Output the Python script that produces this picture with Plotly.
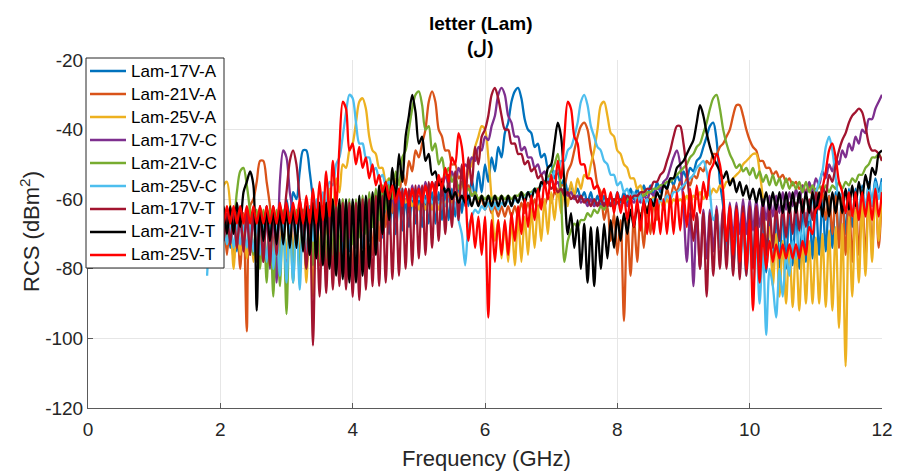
import numpy as np
import plotly.graph_objects as go

# Frequency grid (GHz): 1.80, 1.85, ..., 12.00
FREQ = np.round(np.arange(1.8, 12.0001, 0.05), 2)

NAMES = ["Lam-17V-A", "Lam-21V-A", "Lam-25V-A", "Lam-17V-C", "Lam-21V-C",
         "Lam-25V-C", "Lam-17V-T", "Lam-21V-T", "Lam-25V-T"]
COLORS = ["#0072BD", "#D95319", "#EDB120", "#7E2F8E", "#77AC30",
          "#4DBEEE", "#A2142F", "#000000", "#FF0000"]

X_TICKS = [0, 2, 4, 6, 8, 10, 12]
Y_TICKS = [-120, -100, -80, -60, -40, -20]
Y_TICK_TEXT = ["-120", "-100", "-80", "-60", "-40", "-20"]

# RCS values (dBm^2), one row per GHz
LAM_17V_A = [-66,-72,-65,-73,
 -65,-72,-64,-74,-64,-75,-64,-74,-63,-76,-63,-75,-63,-76,-62,-74,-62,-75,-61,-73,
 -60,-66,-58,-60,-52,-46,-46,-52,-60,-68,-62,-74,-63,-76,-63,-77,-63,-76,-63,-75,
 -63,-74,-62,-74,-62,-72,-62,-72,-61,-71,-61,-70,-60,-70,-60,-69,-60,-68,-59,-67,
 -59,-68,-59,-67,-58,-67,-58,-66,-57,-66,-57,-65,-56,-64,-55,-62,-54,-60,-52,-58,
 -50,-55,-48,-52,-45,-48,-41,-38,-32,-29,-28,-31,-37,-40,-41,-45,-44,-48,-47,-51,
 -50,-54,-52,-56,-54,-58,-56,-59,-57,-60,-58,-61,-58,-62,-59,-62,-59,-62,-59,-62,
 -58,-61,-58,-61,-57,-60,-57,-60,-56,-59,-56,-59,-55,-58,-55,-57,-54,-56,-53,-55,
 -52,-54,-51,-52,-49,-48,-45,-42,-39,-38,-43,-55,-62,-75,-63,-80,-62,-81,-62,-79,
 -62,-80,-63,-82,-63,-81,-63,-82,-63,-80,-62,-80,-62,-79,-62,-80,-61,-78,-61,-77,
 -60,-76,-60,-75,-59,-74,-58,-72,-58,-70,-57,-68,-57,-66,-56,-64,-55,-62,-54,-58,
 -54]

LAM_21V_A = [-74,-66,-76,-65,
 -75,-65,-76,-65,-78,-64,-80,-64,-98,-62,-60,-55,-49,-49,-55,-62,-74,-64,-76,-64,
 -78,-64,-77,-64,-78,-63,-77,-63,-78,-63,-79,-63,-80,-63,-80,-62,-81,-62,-82,-62,
 -82,-61,-83,-61,-80,-60,-76,-59,-72,-58,-68,-56,-64,-54,-60,-52,-56,-49,-52,-46,
 -48,-44,-40,-32,-29,-32,-40,-42,-46,-46,-50,-50,-54,-53,-57,-56,-59,-58,-61,-60,
 -63,-61,-64,-62,-65,-62,-65,-62,-65,-62,-65,-61,-64,-61,-64,-60,-63,-60,-62,-59,
 -61,-58,-59,-56,-56,-52,-50,-46,-42,-39,-38,-40,-46,-50,-56,-58,-66,-62,-72,-64,
 -76,-66,-95,-66,-82,-65,-78,-64,-74,-62,-70,-61,-66,-59,-63,-57,-60,-56,-58,-55,
 -57,-54,-56,-53,-54,-51,-52,-49,-50,-47,-47,-45,-44,-42,-40,-36,-33,-33,-36,-40,
 -43,-45,-46,-49,-49,-51,-51,-53,-52,-54,-53,-55,-54,-56,-55,-57,-56,-58,-56,-59,
 -57,-62,-58,-66,-59,-70,-59,-74,-59,-76,-59,-78,-58,-76,-58,-77,-57,-75,-56,-74,
 -58]

LAM_25V_A = [-70,-62,-68,-60,
 -62,-56,-55,-62,-80,-66,-76,-66,-77,-66,-78,-66,-77,-66,-78,-66,-77,-65,-78,-65,
 -77,-65,-79,-64,-80,-64,-84,-63,-88,-62,-76,-60,-70,-57,-64,-54,-58,-50,-51,-46,
 -44,-38,-32,-31,-34,-42,-46,-47,-51,-51,-55,-54,-58,-56,-59,-58,-61,-59,-62,-60,
 -63,-60,-63,-60,-63,-60,-63,-60,-62,-59,-61,-58,-59,-56,-56,-52,-50,-45,-42,-39,
 -40,-48,-60,-72,-66,-77,-67,-78,-66,-79,-65,-78,-65,-76,-63,-74,-62,-72,-60,-70,
 -58,-66,-57,-64,-56,-62,-55,-59,-54,-57,-53,-54,-50,-46,-40,-33,-32,-36,-41,-42,
 -46,-47,-50,-51,-54,-54,-57,-56,-59,-58,-61,-59,-62,-60,-62,-60,-62,-60,-61,-60,
 -61,-59,-61,-59,-60,-58,-60,-58,-59,-57,-58,-56,-57,-55,-55,-54,-53,-52,-50,-49,
 -48,-47,-47,-52,-60,-72,-68,-85,-70,-88,-72,-90,-73,-91,-73,-92,-72,-90,-72,-90,
 -71,-90,-70,-91,-69,-92,-68,-97,-67,-108,-65,-88,-63,-84,-61,-82,-59,-78,-57,-72,
 -56]

LAM_17V_C = [-66,-72,-66,-72,
 -65,-72,-65,-73,-65,-74,-65,-75,-65,-76,-64,-77,-64,-78,-64,-80,-63,-84,-55,-46,
 -48,-58,-64,-74,-64,-75,-64,-76,-64,-76,-64,-75,-64,-74,-63,-73,-63,-72,-62,-71,
 -62,-70,-61,-69,-61,-68,-60,-67,-60,-66,-59,-65,-58,-64,-58,-63,-57,-62,-56,-61,
 -56,-60,-55,-59,-55,-58,-54,-57,-53,-56,-52,-55,-51,-53,-50,-51,-48,-49,-45,-46,
 -42,-43,-39,-36,-30,-28,-30,-36,-38,-42,-42,-46,-45,-48,-48,-51,-50,-53,-52,-55,
 -54,-56,-55,-58,-57,-59,-58,-60,-59,-61,-60,-62,-60,-62,-61,-62,-61,-62,-61,-62,
 -61,-62,-60,-62,-60,-61,-59,-61,-59,-60,-58,-59,-57,-57,-55,-54,-51,-48,-46,-50,
 -62,-78,-64,-85,-64,-80,-63,-77,-63,-75,-62,-73,-62,-72,-61,-71,-61,-70,-60,-70,
 -60,-69,-60,-68,-60,-66,-59,-65,-59,-64,-58,-63,-58,-62,-57,-61,-56,-59,-55,-58,
 -54,-56,-52,-54,-50,-52,-48,-50,-46,-48,-44,-46,-42,-44,-40,-41,-37,-37,-34,-32,
 -30]

LAM_21V_C = [-70,-64,-70,-63,
 -70,-63,-71,-63,-66,-58,-52,-51,-56,-64,-76,-63,-80,-63,-84,-63,-88,-63,-85,-63,
 -93,-64,-84,-63,-82,-63,-80,-62,-79,-62,-78,-62,-77,-61,-76,-61,-75,-60,-74,-60,
 -73,-60,-71,-59,-70,-58,-68,-57,-66,-56,-63,-54,-60,-52,-56,-48,-46,-40,-34,-30,
 -29,-33,-40,-39,-46,-44,-50,-48,-53,-51,-55,-53,-57,-55,-58,-57,-59,-58,-60,-59,
 -60,-59,-60,-59,-60,-59,-60,-59,-60,-59,-59,-58,-59,-58,-58,-57,-57,-56,-55,-54,
 -52,-50,-47,-60,-78,-72,-69,-67,-68,-66,-66,-64,-65,-63,-64,-62,-63,-61,-62,-60,
 -61,-60,-61,-60,-60,-59,-60,-59,-59,-58,-58,-57,-57,-56,-56,-55,-55,-54,-53,-52,
 -51,-50,-48,-47,-45,-44,-41,-38,-34,-31,-30,-34,-40,-44,-47,-49,-51,-50,-52,-51,
 -53,-51,-54,-52,-55,-53,-56,-53,-56,-54,-57,-54,-57,-55,-57,-55,-58,-55,-58,-56,
 -58,-56,-58,-56,-58,-56,-57,-55,-57,-55,-56,-54,-55,-53,-53,-51,-50,-48,-48,-47,
 -49]

LAM_25V_C = [-82,-70,-74,-68,
 -72,-67,-73,-67,-74,-67,-73,-67,-74,-67,-75,-67,-76,-67,-78,-67,-80,-66,-82,-66,
 -84,-66,-84,-65,-86,-64,-78,-62,-72,-60,-66,-58,-62,-55,-56,-50,-48,-42,-35,-30,
 -31,-38,-44,-44,-48,-48,-52,-51,-54,-53,-56,-55,-57,-56,-58,-57,-59,-58,-60,-59,
 -60,-59,-61,-59,-61,-60,-61,-60,-62,-60,-63,-61,-66,-70,-79,-68,-65,-63,-64,-62,
 -63,-61,-63,-61,-63,-61,-62,-60,-62,-60,-61,-59,-60,-58,-59,-57,-58,-56,-56,-54,
 -55,-52,-52,-49,-49,-46,-45,-42,-38,-32,-30,-33,-39,-42,-45,-46,-49,-50,-53,-53,
 -56,-55,-58,-57,-60,-58,-61,-59,-62,-60,-62,-60,-62,-60,-61,-59,-60,-58,-58,-57,
 -56,-55,-54,-53,-51,-50,-49,-52,-58,-66,-64,-74,-65,-78,-66,-81,-68,-80,-68,-82,
 -70,-86,-72,-90,-74,-99,-80,-85,-94,-80,-88,-76,-82,-72,-77,-68,-72,-64,-66,-60,
 -58,-55,-52,-45,-42,-46,-54,-60,-58,-64,-58,-65,-58,-64,-57,-63,-56,-62,-55,-60,
 -55]

LAM_17V_T = [-66,-72,-65,-72,
 -64,-72,-64,-73,-64,-74,-63,-75,-63,-76,-63,-78,-63,-78,-62,-79,-62,-76,-62,-66,
 -58,-49,-46,-50,-60,-66,-80,-63,-102,-63,-88,-62,-87,-62,-86,-62,-85,-61,-86,-61,
 -88,-61,-89,-60,-86,-60,-85,-59,-85,-59,-84,-58,-83,-58,-82,-57,-80,-57,-79,-56,
 -77,-56,-76,-55,-74,-55,-72,-54,-70,-53,-68,-52,-66,-50,-62,-48,-56,-45,-50,-42,
 -40,-36,-30,-28,-31,-36,-40,-40,-44,-44,-47,-47,-50,-49,-52,-51,-54,-53,-56,-55,
 -57,-56,-58,-57,-59,-58,-60,-59,-61,-59,-61,-60,-62,-60,-62,-60,-62,-60,-62,-60,
 -61,-60,-61,-59,-60,-59,-59,-58,-58,-57,-57,-55,-55,-53,-52,-49,-46,-42,-39,-39,
 -44,-52,-62,-72,-64,-80,-64,-88,-64,-82,-63,-80,-63,-80,-63,-82,-62,-83,-62,-82,
 -62,-80,-62,-78,-62,-76,-62,-74,-62,-72,-62,-71,-61,-70,-61,-69,-60,-68,-60,-66,
 -58,-63,-56,-59,-53,-55,-50,-46,-43,-41,-38,-36,-35,-34,-35,-39,-44,-46,-46,-47,
 -49]

LAM_21V_T = [-70,-63,-70,-62,
 -70,-62,-70,-62,-70,-61,-68,-58,-55,-52,-56,-92,-62,-72,-63,-72,-63,-73,-63,-73,
 -63,-74,-62,-74,-62,-75,-62,-76,-61,-77,-61,-79,-61,-80,-60,-82,-60,-83,-60,-84,
 -60,-84,-59,-82,-59,-80,-58,-76,-56,-70,-55,-66,-51,-60,-47,-55,-42,-36,-30,-35,
 -44,-42,-49,-47,-53,-52,-56,-55,-58,-57,-60,-58,-61,-59,-61,-59,-62,-59,-62,-59,
 -62,-59,-62,-59,-62,-59,-62,-59,-62,-59,-61,-58,-61,-58,-60,-57,-59,-55,-56,-51,
 -50,-44,-38,-42,-56,-70,-64,-74,-66,-80,-67,-84,-68,-85,-68,-80,-67,-77,-66,-74,
 -65,-72,-64,-70,-63,-68,-62,-66,-61,-64,-60,-62,-58,-60,-56,-57,-54,-54,-51,-50,
 -49,-47,-45,-43,-38,-33,-36,-41,-45,-48,-50,-52,-54,-52,-56,-54,-58,-55,-59,-56,
 -60,-57,-61,-57,-62,-58,-63,-58,-63,-58,-64,-58,-64,-58,-64,-58,-64,-58,-64,-58,
 -64,-58,-65,-58,-65,-58,-64,-58,-64,-57,-63,-56,-62,-55,-60,-53,-57,-51,-53,-47,
 -46]

LAM_25V_T = [-62,-68,-62,-67,
 -62,-67,-62,-67,-62,-67,-62,-67,-62,-67,-62,-67,-62,-67,-62,-67,-62,-67,-61,-67,
 -61,-67,-61,-67,-60,-67,-59,-67,-57,-67,-55,-66,-52,-65,-49,-62,-45,-32,-34,-46,
 -44,-50,-45,-51,-48,-54,-50,-56,-53,-58,-55,-60,-56,-61,-57,-62,-57,-62,-57,-62,
 -57,-61,-56,-61,-55,-59,-53,-57,-51,-55,-48,-50,-41,-45,-56,-72,-64,-74,-65,-76,
 -65,-94,-66,-78,-66,-76,-66,-76,-64,-72,-62,-70,-60,-68,-59,-66,-57,-63,-55,-60,
 -53,-58,-49,-54,-42,-32,-34,-42,-44,-50,-50,-54,-54,-57,-56,-60,-57,-62,-58,-64,
 -58,-64,-59,-66,-59,-68,-60,-69,-60,-70,-60,-70,-60,-70,-60,-70,-59,-70,-58,-69,
 -58,-68,-57,-66,-56,-64,-55,-60,-52,-50,-47,-50,-58,-72,-62,-76,-63,-78,-64,-80,
 -66,-92,-68,-84,-70,-80,-72,-78,-73,-77,-73,-77,-73,-77,-73,-77,-72,-76,-68,-70,
 -63,-62,-57,-52,-46,-44,-48,-55,-58,-64,-58,-65,-58,-66,-58,-65,-58,-66,-57,-65,
 -58]

SERIES = [LAM_17V_A, LAM_21V_A, LAM_25V_A, LAM_17V_C, LAM_21V_C,
          LAM_25V_C, LAM_17V_T, LAM_21V_T, LAM_25V_T]

for nm, s in zip(NAMES, SERIES):
    assert len(s) == len(FREQ), (nm, len(s), len(FREQ))

FONT = "Liberation Sans, Arial, Helvetica, sans-serif"
AX = "#262626"
AXLINE = "#5a5a5a"

W, H = 897, 472
L, R, T, B = 88, 15, 60, 64
PW, PH = W - L - R, H - T - B


def px(x):
    return (x - L) / PW


def py(y):
    return (H - B - y) / PH


fig = go.Figure()
for nm, col, s in zip(NAMES, COLORS, SERIES):
    fig.add_trace(go.Scatter(x=FREQ, y=s, mode="lines", name=nm, showlegend=False,
                             line=dict(color=col, width=2.3, shape="spline", smoothing=0.8)))

# Legend box drawn manually (MATLAB-style compact legend)
shapes = [dict(type="rect", xref="paper", yref="paper", layer="above",
               x0=px(86), x1=px(224), y0=py(268), y1=py(58),
               fillcolor="white", line=dict(color=AX, width=1))]
annotations = []
for i, (nm, col) in enumerate(zip(NAMES, COLORS)):
    yc = 71 + 23.0 * i
    shapes.append(dict(type="line", xref="paper", yref="paper", layer="above",
                       x0=px(90), x1=px(126), y0=py(yc), y1=py(yc),
                       line=dict(color=col, width=2.5)))
    annotations.append(dict(text=nm, xref="paper", yref="paper", x=px(129), y=py(yc),
                            xanchor="left", yanchor="middle", showarrow=False,
                            font=dict(size=17, color="#000000")))

# Titles
annotations += [
    dict(text="<b>letter (Lam)</b>", xref="paper", yref="paper", x=px(480), y=py(23),
         xanchor="center", yanchor="middle", showarrow=False,
         font=dict(size=19, color="#000000")),
    dict(text="<b>(ل)</b>", xref="paper", yref="paper", x=px(480), y=py(47),
         xanchor="center", yanchor="middle", showarrow=False,
         font=dict(size=19, color="#000000")),
    dict(text="Frequency (GHz)", xref="paper", yref="paper", x=px(486), y=py(458),
         xanchor="center", yanchor="middle", showarrow=False,
         font=dict(size=22, color=AX)),
    dict(text="RCS (dBm<sup>2</sup>)", xref="paper", yref="paper", x=px(30), y=py(232),
         xanchor="center", yanchor="middle", showarrow=False, textangle=-90,
         font=dict(size=22, color=AX)),
]

fig.update_layout(
    width=W, height=H,
    margin=dict(l=L, r=R, t=T, b=B, autoexpand=False),
    paper_bgcolor="white", plot_bgcolor="white",
    font=dict(family=FONT, color=AX),
    showlegend=False,
    shapes=shapes, annotations=annotations,
)
fig.update_xaxes(range=[0, 12], tickvals=X_TICKS, showgrid=True, gridcolor="#e6e6e6",
                 showline=True, linecolor=AXLINE, linewidth=1, ticks="inside", ticklen=5,
                 tickcolor=AXLINE, zeroline=False, tickfont=dict(size=19, color=AX),
                 ticklabelstandoff=4, automargin=False)
fig.update_yaxes(range=[-120, -20], tickvals=Y_TICKS, ticktext=Y_TICK_TEXT, showgrid=True,
                 gridcolor="#e6e6e6", showline=True, linecolor=AXLINE, linewidth=1,
                 ticks="inside", ticklen=5, tickcolor=AXLINE, zeroline=False,
                 tickfont=dict(size=19, color=AX), automargin=False)

fig.write_html("out.html")
